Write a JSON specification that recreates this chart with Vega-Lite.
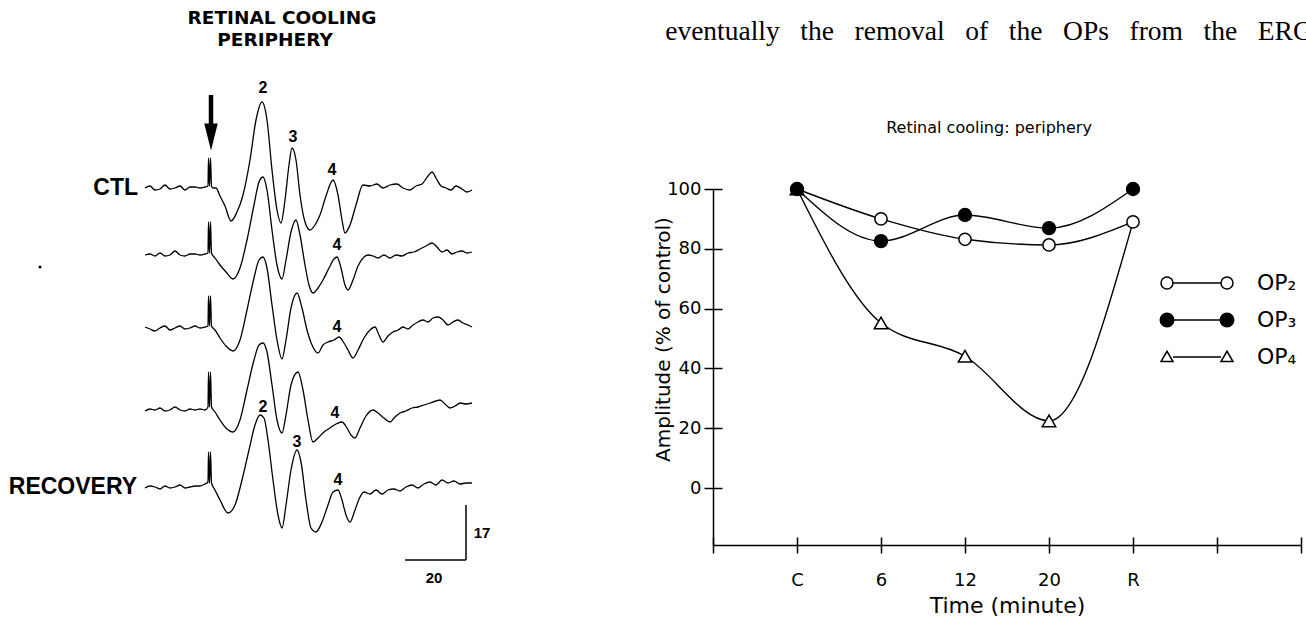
{
  "$schema": "https://vega.github.io/schema/vega-lite/v6.json",
  "background": "white",
  "padding": 0,
  "bounds": "flush",
  "spacing": 241,
  "config": {
    "view": {"stroke": null},
    "axis": {"labelFont": "DejaVu Sans", "titleFont": "DejaVu Sans", "labelColor": "black", "titleColor": "black", "domainColor": "black", "tickColor": "black", "domainWidth": 1.5, "tickWidth": 1.5, "titleFontWeight": "normal", "grid": false}
  },
  "datasets": {
    "op": [
      {"series": "OP4", "time": "C", "k": 0, "amp": 100},
      {"series": "OP4", "time": "6", "k": 1, "amp": 55.2},
      {"series": "OP4", "time": "12", "k": 2, "amp": 44.1},
      {"series": "OP4", "time": "20", "k": 3, "amp": 22.5},
      {"series": "OP4", "time": "R", "k": 4, "amp": 89},
      {"series": "OP2", "time": "C", "k": 0, "amp": 100},
      {"series": "OP2", "time": "6", "k": 1, "amp": 90},
      {"series": "OP2", "time": "12", "k": 2, "amp": 83.2},
      {"series": "OP2", "time": "20", "k": 3, "amp": 81.3},
      {"series": "OP2", "time": "R", "k": 4, "amp": 89},
      {"series": "OP3", "time": "C", "k": 0, "amp": 100},
      {"series": "OP3", "time": "6", "k": 1, "amp": 82.6},
      {"series": "OP3", "time": "12", "k": 2, "amp": 91.3},
      {"series": "OP3", "time": "20", "k": 3, "amp": 86.9},
      {"series": "OP3", "time": "R", "k": 4, "amp": 100}
    ],
    "traces": [
      {"trace": 1, "t": 145, "v": 0}, {"trace": 1, "t": 150, "v": 2}, {"trace": 1, "t": 155, "v": -2}, {"trace": 1, "t": 160, "v": -1}, {"trace": 1, "t": 165, "v": 3}, {"trace": 1, "t": 170, "v": -1}, {"trace": 1, "t": 175, "v": 0}, {"trace": 1, "t": 180, "v": 2}, {"trace": 1, "t": 185, "v": -2}, {"trace": 1, "t": 190, "v": 1}, {"trace": 1, "t": 195, "v": 1}, {"trace": 1, "t": 200, "v": 0}, {"trace": 1, "t": 205, "v": 1}, {"trace": 1, "t": 208, "v": 2}, {"trace": 1, "t": 208.5, "v": 30}, {"trace": 1, "t": 209.5, "v": 2}, {"trace": 1, "t": 210.5, "v": 30}, {"trace": 1, "t": 211.5, "v": 2}, {"trace": 1, "t": 213, "v": 0}, {"trace": 1, "t": 216, "v": 0}, {"trace": 1, "t": 220, "v": -8}, {"trace": 1, "t": 225, "v": -18}, {"trace": 1, "t": 231, "v": -33}, {"trace": 1, "t": 237, "v": -24}, {"trace": 1, "t": 243, "v": -7}, {"trace": 1, "t": 250, "v": 28}, {"trace": 1, "t": 256, "v": 68}, {"trace": 1, "t": 262, "v": 86}, {"trace": 1, "t": 267, "v": 68}, {"trace": 1, "t": 272, "v": 18}, {"trace": 1, "t": 277, "v": -22}, {"trace": 1, "t": 281, "v": -35}, {"trace": 1, "t": 285, "v": -12}, {"trace": 1, "t": 289, "v": 23}, {"trace": 1, "t": 292, "v": 40}, {"trace": 1, "t": 296, "v": 28}, {"trace": 1, "t": 300, "v": -7}, {"trace": 1, "t": 305, "v": -34}, {"trace": 1, "t": 310, "v": -42}, {"trace": 1, "t": 315, "v": -37}, {"trace": 1, "t": 320, "v": -27}, {"trace": 1, "t": 326, "v": -8}, {"trace": 1, "t": 333, "v": 8}, {"trace": 1, "t": 338, "v": -7}, {"trace": 1, "t": 342, "v": -32}, {"trace": 1, "t": 345, "v": -45}, {"trace": 1, "t": 350, "v": -37}, {"trace": 1, "t": 356, "v": -17}, {"trace": 1, "t": 363, "v": 3}, {"trace": 1, "t": 370, "v": 2}, {"trace": 1, "t": 377, "v": 4}, {"trace": 1, "t": 383, "v": 0}, {"trace": 1, "t": 390, "v": 3}, {"trace": 1, "t": 397, "v": 4}, {"trace": 1, "t": 403, "v": 0}, {"trace": 1, "t": 410, "v": -2}, {"trace": 1, "t": 416, "v": 2}, {"trace": 1, "t": 422, "v": 4}, {"trace": 1, "t": 428, "v": 12}, {"trace": 1, "t": 432, "v": 16}, {"trace": 1, "t": 436, "v": 10}, {"trace": 1, "t": 441, "v": 2}, {"trace": 1, "t": 446, "v": 0}, {"trace": 1, "t": 451, "v": -2}, {"trace": 1, "t": 456, "v": 2}, {"trace": 1, "t": 462, "v": -1}, {"trace": 1, "t": 467, "v": -4}, {"trace": 1, "t": 472, "v": -2},
      {"trace": 2, "t": 145, "v": -67}, {"trace": 2, "t": 150, "v": -66}, {"trace": 2, "t": 155, "v": -68}, {"trace": 2, "t": 160, "v": -65}, {"trace": 2, "t": 165, "v": -68}, {"trace": 2, "t": 170, "v": -67}, {"trace": 2, "t": 175, "v": -63}, {"trace": 2, "t": 180, "v": -67}, {"trace": 2, "t": 185, "v": -68}, {"trace": 2, "t": 190, "v": -66}, {"trace": 2, "t": 195, "v": -66}, {"trace": 2, "t": 200, "v": -67}, {"trace": 2, "t": 205, "v": -66}, {"trace": 2, "t": 208, "v": -65}, {"trace": 2, "t": 208.5, "v": -34}, {"trace": 2, "t": 209.5, "v": -65}, {"trace": 2, "t": 210.5, "v": -34}, {"trace": 2, "t": 211.5, "v": -65}, {"trace": 2, "t": 215, "v": -70}, {"trace": 2, "t": 220, "v": -77}, {"trace": 2, "t": 226, "v": -84}, {"trace": 2, "t": 233, "v": -91}, {"trace": 2, "t": 240, "v": -80}, {"trace": 2, "t": 247, "v": -52}, {"trace": 2, "t": 254, "v": -17}, {"trace": 2, "t": 259, "v": 6}, {"trace": 2, "t": 263, "v": 11}, {"trace": 2, "t": 267, "v": -2}, {"trace": 2, "t": 272, "v": -42}, {"trace": 2, "t": 277, "v": -77}, {"trace": 2, "t": 282, "v": -91}, {"trace": 2, "t": 286, "v": -72}, {"trace": 2, "t": 291, "v": -44}, {"trace": 2, "t": 296, "v": -32}, {"trace": 2, "t": 300, "v": -47}, {"trace": 2, "t": 305, "v": -77}, {"trace": 2, "t": 309, "v": -97}, {"trace": 2, "t": 313, "v": -105}, {"trace": 2, "t": 318, "v": -100}, {"trace": 2, "t": 323, "v": -92}, {"trace": 2, "t": 329, "v": -80}, {"trace": 2, "t": 334, "v": -71}, {"trace": 2, "t": 337, "v": -69}, {"trace": 2, "t": 341, "v": -80}, {"trace": 2, "t": 345, "v": -97}, {"trace": 2, "t": 348, "v": -102}, {"trace": 2, "t": 353, "v": -92}, {"trace": 2, "t": 358, "v": -78}, {"trace": 2, "t": 364, "v": -69}, {"trace": 2, "t": 368, "v": -67}, {"trace": 2, "t": 373, "v": -68}, {"trace": 2, "t": 378, "v": -70}, {"trace": 2, "t": 384, "v": -67}, {"trace": 2, "t": 390, "v": -70}, {"trace": 2, "t": 396, "v": -67}, {"trace": 2, "t": 402, "v": -68}, {"trace": 2, "t": 408, "v": -65}, {"trace": 2, "t": 414, "v": -64}, {"trace": 2, "t": 420, "v": -61}, {"trace": 2, "t": 426, "v": -58}, {"trace": 2, "t": 432, "v": -55}, {"trace": 2, "t": 437, "v": -59}, {"trace": 2, "t": 442, "v": -64}, {"trace": 2, "t": 447, "v": -62}, {"trace": 2, "t": 452, "v": -66}, {"trace": 2, "t": 457, "v": -64}, {"trace": 2, "t": 462, "v": -63}, {"trace": 2, "t": 467, "v": -65}, {"trace": 2, "t": 472, "v": -64},
      {"trace": 3, "t": 145, "v": -139}, {"trace": 3, "t": 150, "v": -141}, {"trace": 3, "t": 155, "v": -143}, {"trace": 3, "t": 160, "v": -140}, {"trace": 3, "t": 165, "v": -138}, {"trace": 3, "t": 170, "v": -142}, {"trace": 3, "t": 175, "v": -140}, {"trace": 3, "t": 180, "v": -138}, {"trace": 3, "t": 185, "v": -141}, {"trace": 3, "t": 190, "v": -140}, {"trace": 3, "t": 195, "v": -138}, {"trace": 3, "t": 200, "v": -140}, {"trace": 3, "t": 205, "v": -139}, {"trace": 3, "t": 208, "v": -138}, {"trace": 3, "t": 208.5, "v": -108}, {"trace": 3, "t": 209.5, "v": -138}, {"trace": 3, "t": 210.5, "v": -108}, {"trace": 3, "t": 211.5, "v": -138}, {"trace": 3, "t": 215, "v": -142}, {"trace": 3, "t": 220, "v": -150}, {"trace": 3, "t": 226, "v": -158}, {"trace": 3, "t": 233, "v": -163}, {"trace": 3, "t": 240, "v": -152}, {"trace": 3, "t": 247, "v": -122}, {"trace": 3, "t": 254, "v": -90}, {"trace": 3, "t": 259, "v": -72}, {"trace": 3, "t": 263, "v": -69}, {"trace": 3, "t": 267, "v": -80}, {"trace": 3, "t": 272, "v": -117}, {"trace": 3, "t": 277, "v": -152}, {"trace": 3, "t": 282, "v": -171}, {"trace": 3, "t": 286, "v": -152}, {"trace": 3, "t": 291, "v": -120}, {"trace": 3, "t": 297, "v": -105}, {"trace": 3, "t": 302, "v": -120}, {"trace": 3, "t": 307, "v": -142}, {"trace": 3, "t": 312, "v": -157}, {"trace": 3, "t": 318, "v": -165}, {"trace": 3, "t": 323, "v": -157}, {"trace": 3, "t": 328, "v": -154}, {"trace": 3, "t": 334, "v": -152}, {"trace": 3, "t": 339, "v": -149}, {"trace": 3, "t": 344, "v": -155}, {"trace": 3, "t": 348, "v": -162}, {"trace": 3, "t": 353, "v": -170}, {"trace": 3, "t": 358, "v": -162}, {"trace": 3, "t": 364, "v": -150}, {"trace": 3, "t": 370, "v": -142}, {"trace": 3, "t": 375, "v": -139}, {"trace": 3, "t": 379, "v": -147}, {"trace": 3, "t": 383, "v": -154}, {"trace": 3, "t": 388, "v": -148}, {"trace": 3, "t": 393, "v": -144}, {"trace": 3, "t": 398, "v": -142}, {"trace": 3, "t": 403, "v": -139}, {"trace": 3, "t": 408, "v": -141}, {"trace": 3, "t": 413, "v": -137}, {"trace": 3, "t": 418, "v": -134}, {"trace": 3, "t": 423, "v": -132}, {"trace": 3, "t": 428, "v": -134}, {"trace": 3, "t": 433, "v": -130}, {"trace": 3, "t": 438, "v": -129}, {"trace": 3, "t": 443, "v": -132}, {"trace": 3, "t": 448, "v": -137}, {"trace": 3, "t": 453, "v": -134}, {"trace": 3, "t": 458, "v": -132}, {"trace": 3, "t": 463, "v": -135}, {"trace": 3, "t": 468, "v": -137}, {"trace": 3, "t": 472, "v": -139},
      {"trace": 4, "t": 145, "v": -223}, {"trace": 4, "t": 150, "v": -221}, {"trace": 4, "t": 155, "v": -222}, {"trace": 4, "t": 160, "v": -220}, {"trace": 4, "t": 165, "v": -223}, {"trace": 4, "t": 170, "v": -222}, {"trace": 4, "t": 175, "v": -219}, {"trace": 4, "t": 180, "v": -222}, {"trace": 4, "t": 185, "v": -223}, {"trace": 4, "t": 190, "v": -221}, {"trace": 4, "t": 195, "v": -222}, {"trace": 4, "t": 200, "v": -221}, {"trace": 4, "t": 205, "v": -222}, {"trace": 4, "t": 208, "v": -219}, {"trace": 4, "t": 208.5, "v": -184}, {"trace": 4, "t": 209.5, "v": -219}, {"trace": 4, "t": 210.5, "v": -184}, {"trace": 4, "t": 211.5, "v": -219}, {"trace": 4, "t": 215, "v": -224}, {"trace": 4, "t": 220, "v": -232}, {"trace": 4, "t": 226, "v": -240}, {"trace": 4, "t": 233, "v": -244}, {"trace": 4, "t": 240, "v": -232}, {"trace": 4, "t": 247, "v": -202}, {"trace": 4, "t": 254, "v": -172}, {"trace": 4, "t": 259, "v": -157}, {"trace": 4, "t": 263, "v": -155}, {"trace": 4, "t": 267, "v": -164}, {"trace": 4, "t": 272, "v": -197}, {"trace": 4, "t": 277, "v": -232}, {"trace": 4, "t": 282, "v": -245}, {"trace": 4, "t": 286, "v": -227}, {"trace": 4, "t": 291, "v": -197}, {"trace": 4, "t": 298, "v": -184}, {"trace": 4, "t": 303, "v": -202}, {"trace": 4, "t": 308, "v": -232}, {"trace": 4, "t": 313, "v": -254}, {"trace": 4, "t": 318, "v": -250}, {"trace": 4, "t": 324, "v": -244}, {"trace": 4, "t": 330, "v": -240}, {"trace": 4, "t": 336, "v": -236}, {"trace": 4, "t": 342, "v": -234}, {"trace": 4, "t": 347, "v": -240}, {"trace": 4, "t": 351, "v": -247}, {"trace": 4, "t": 355, "v": -250}, {"trace": 4, "t": 360, "v": -240}, {"trace": 4, "t": 366, "v": -228}, {"trace": 4, "t": 373, "v": -222}, {"trace": 4, "t": 378, "v": -225}, {"trace": 4, "t": 384, "v": -230}, {"trace": 4, "t": 390, "v": -234}, {"trace": 4, "t": 395, "v": -229}, {"trace": 4, "t": 400, "v": -225}, {"trace": 4, "t": 406, "v": -223}, {"trace": 4, "t": 412, "v": -220}, {"trace": 4, "t": 418, "v": -219}, {"trace": 4, "t": 424, "v": -217}, {"trace": 4, "t": 430, "v": -215}, {"trace": 4, "t": 436, "v": -213}, {"trace": 4, "t": 440, "v": -212}, {"trace": 4, "t": 445, "v": -216}, {"trace": 4, "t": 450, "v": -220}, {"trace": 4, "t": 455, "v": -218}, {"trace": 4, "t": 460, "v": -215}, {"trace": 4, "t": 466, "v": -216}, {"trace": 4, "t": 472, "v": -215},
      {"trace": 5, "t": 145, "v": -300}, {"trace": 5, "t": 150, "v": -298}, {"trace": 5, "t": 155, "v": -299}, {"trace": 5, "t": 160, "v": -301}, {"trace": 5, "t": 165, "v": -298}, {"trace": 5, "t": 170, "v": -300}, {"trace": 5, "t": 175, "v": -299}, {"trace": 5, "t": 180, "v": -297}, {"trace": 5, "t": 185, "v": -300}, {"trace": 5, "t": 190, "v": -299}, {"trace": 5, "t": 195, "v": -298}, {"trace": 5, "t": 200, "v": -298}, {"trace": 5, "t": 205, "v": -296}, {"trace": 5, "t": 208, "v": -294}, {"trace": 5, "t": 208.5, "v": -264}, {"trace": 5, "t": 209.5, "v": -295}, {"trace": 5, "t": 210.5, "v": -264}, {"trace": 5, "t": 211.5, "v": -295}, {"trace": 5, "t": 215, "v": -302}, {"trace": 5, "t": 220, "v": -312}, {"trace": 5, "t": 228, "v": -325}, {"trace": 5, "t": 235, "v": -317}, {"trace": 5, "t": 242, "v": -292}, {"trace": 5, "t": 249, "v": -262}, {"trace": 5, "t": 255, "v": -237}, {"trace": 5, "t": 260, "v": -227}, {"trace": 5, "t": 264, "v": -230}, {"trace": 5, "t": 268, "v": -252}, {"trace": 5, "t": 273, "v": -292}, {"trace": 5, "t": 278, "v": -327}, {"trace": 5, "t": 282, "v": -340}, {"trace": 5, "t": 286, "v": -317}, {"trace": 5, "t": 291, "v": -282}, {"trace": 5, "t": 297, "v": -262}, {"trace": 5, "t": 301, "v": -274}, {"trace": 5, "t": 306, "v": -312}, {"trace": 5, "t": 311, "v": -340}, {"trace": 5, "t": 316, "v": -344}, {"trace": 5, "t": 322, "v": -334}, {"trace": 5, "t": 328, "v": -317}, {"trace": 5, "t": 333, "v": -304}, {"trace": 5, "t": 338, "v": -302}, {"trace": 5, "t": 342, "v": -312}, {"trace": 5, "t": 346, "v": -327}, {"trace": 5, "t": 350, "v": -334}, {"trace": 5, "t": 355, "v": -322}, {"trace": 5, "t": 360, "v": -309}, {"trace": 5, "t": 364, "v": -304}, {"trace": 5, "t": 370, "v": -306}, {"trace": 5, "t": 376, "v": -302}, {"trace": 5, "t": 382, "v": -306}, {"trace": 5, "t": 388, "v": -302}, {"trace": 5, "t": 394, "v": -301}, {"trace": 5, "t": 400, "v": -303}, {"trace": 5, "t": 406, "v": -299}, {"trace": 5, "t": 412, "v": -297}, {"trace": 5, "t": 418, "v": -300}, {"trace": 5, "t": 424, "v": -296}, {"trace": 5, "t": 430, "v": -294}, {"trace": 5, "t": 436, "v": -297}, {"trace": 5, "t": 442, "v": -292}, {"trace": 5, "t": 448, "v": -295}, {"trace": 5, "t": 454, "v": -293}, {"trace": 5, "t": 460, "v": -296}, {"trace": 5, "t": 466, "v": -295}, {"trace": 5, "t": 472, "v": -295}
    ],
    "labels": [
      {"kind": "title", "text": "RETINAL COOLING", "t": 282, "v": 170},
      {"kind": "title", "text": "PERIPHERY", "t": 275, "v": 148},
      {"kind": "row", "text": "CTL", "t": 138, "v": 0},
      {"kind": "row", "text": "RECOVERY", "t": 137, "v": -299},
      {"kind": "num", "text": "2", "t": 263, "v": 100},
      {"kind": "num", "text": "3", "t": 293, "v": 51},
      {"kind": "num", "text": "4", "t": 332, "v": 18},
      {"kind": "num", "text": "4", "t": 337, "v": -57},
      {"kind": "num", "text": "4", "t": 337, "v": -139},
      {"kind": "num", "text": "4", "t": 335, "v": -225},
      {"kind": "num", "text": "2", "t": 263, "v": -219},
      {"kind": "num", "text": "3", "t": 297, "v": -254},
      {"kind": "num", "text": "4", "t": 338, "v": -292},
      {"kind": "scale", "text": "17", "t": 482, "v": -345},
      {"kind": "scale", "text": "20", "t": 434, "v": -390}
    ],
    "rules": [
      {"kind": "arrow", "t": 211, "v": 93, "t2": 211, "v2": 60},
      {"kind": "bar", "t": 466, "v": -317, "t2": 466, "v2": -372},
      {"kind": "bar", "t": 405, "v": -372, "t2": 466, "v2": -372}
    ],
    "heads": [
      {"kind": "arrowhead", "t": 211, "v": 51}
    ],
    "specks": [
      {"t": 40, "v": -79}
    ]
  },
  "hconcat": [
    {
      "width": 472,
      "height": 626,
      "view": {"fill": "white", "stroke": null},
      "layer": [
        {
          "data": {"name": "traces"},
          "mark": {"type": "line", "color": "black", "strokeWidth": 1.3, "interpolate": "monotone"},
          "encoding": {
            "x": {"field": "t", "type": "quantitative", "scale": {"domain": [0, 472], "nice": false, "zero": false}, "axis": null},
            "y": {"field": "v", "type": "quantitative", "scale": {"domain": [-438, 188], "nice": false, "zero": false}, "axis": null},
            "detail": {"field": "trace"}
          }
        },
        {
          "data": {"name": "rules"},
          "transform": [{"filter": "datum.kind == 'arrow'"}],
          "mark": {"type": "rule", "color": "black", "strokeWidth": 4.5},
          "encoding": {
            "x": {"field": "t", "type": "quantitative", "axis": null},
            "y": {"field": "v", "type": "quantitative", "axis": null},
            "x2": {"field": "t2"},
            "y2": {"field": "v2"}
          }
        },
        {
          "data": {"name": "rules"},
          "transform": [{"filter": "datum.kind == 'bar'"}],
          "mark": {"type": "rule", "color": "black", "strokeWidth": 1.5},
          "encoding": {
            "x": {"field": "t", "type": "quantitative", "axis": null},
            "y": {"field": "v", "type": "quantitative", "axis": null},
            "x2": {"field": "t2"},
            "y2": {"field": "v2"}
          }
        },
        {
          "data": {"name": "heads"},
          "mark": {"type": "point", "shape": "M-0.5,-1L0.5,-1L0,1Z", "size": 729, "filled": true, "color": "black", "opacity": 1},
          "encoding": {
            "x": {"field": "t", "type": "quantitative", "axis": null},
            "y": {"field": "v", "type": "quantitative", "axis": null}
          }
        },
        {
          "data": {"name": "specks"},
          "mark": {"type": "point", "shape": "circle", "size": 10, "filled": true, "color": "black", "opacity": 1},
          "encoding": {
            "x": {"field": "t", "type": "quantitative", "axis": null},
            "y": {"field": "v", "type": "quantitative", "axis": null}
          }
        },
        {
          "data": {"name": "labels"},
          "transform": [{"filter": "datum.kind == 'title'"}],
          "mark": {"type": "text", "font": "DejaVu Sans", "fontWeight": "bold", "fontSize": 18.5, "align": "center", "baseline": "middle", "color": "black"},
          "encoding": {
            "x": {"field": "t", "type": "quantitative", "axis": null},
            "y": {"field": "v", "type": "quantitative", "axis": null},
            "text": {"field": "text"}
          }
        },
        {
          "data": {"name": "labels"},
          "transform": [{"filter": "datum.kind == 'row'"}],
          "mark": {"type": "text", "font": "Liberation Sans", "fontWeight": "bold", "fontSize": 23, "align": "right", "baseline": "middle", "color": "black"},
          "encoding": {
            "x": {"field": "t", "type": "quantitative", "axis": null},
            "y": {"field": "v", "type": "quantitative", "axis": null},
            "text": {"field": "text"}
          }
        },
        {
          "data": {"name": "labels"},
          "transform": [{"filter": "datum.kind == 'num'"}],
          "mark": {"type": "text", "font": "Liberation Sans", "fontWeight": "bold", "fontSize": 16, "align": "center", "baseline": "middle", "color": "black"},
          "encoding": {
            "x": {"field": "t", "type": "quantitative", "axis": null},
            "y": {"field": "v", "type": "quantitative", "axis": null},
            "text": {"field": "text"}
          }
        },
        {
          "data": {"name": "labels"},
          "transform": [{"filter": "datum.kind == 'scale'"}],
          "mark": {"type": "text", "font": "Liberation Sans", "fontWeight": "bold", "fontSize": 15, "align": "center", "baseline": "middle", "color": "black"},
          "encoding": {
            "x": {"field": "t", "type": "quantitative", "axis": null},
            "y": {"field": "v", "type": "quantitative", "axis": null},
            "text": {"field": "text"}
          }
        }
      ]
    },
    {
      "bounds": "flush",
      "spacing": 0,
      "vconcat": [
        {
          "width": 588,
          "height": 189,
          "data": {"values": [{"a": 1}]},
          "mark": {"type": "point", "opacity": 0}
        },
        {
          "width": 588,
          "height": 356,
          "title": {
            "text": "eventually \u2002the \u2002removal \u2002of \u2002the \u2002OPs \u2002from \u2002the \u2002ERG",
            "subtitle": "Retinal cooling: periphery",
            "anchor": "middle",
            "font": "Liberation Serif",
            "fontSize": 27.5,
            "fontWeight": "normal",
            "color": "black",
            "subtitleFont": "DejaVu Sans",
            "subtitleFontSize": 16,
            "subtitleColor": "black",
            "subtitlePadding": 74,
            "offset": 44,
            "dx": -18
          },
          "data": {"name": "op"},
          "layer": [
            {
              "mark": {"type": "line", "interpolate": "monotone", "color": "black", "strokeWidth": 1.4},
              "encoding": {
                "x": {
                  "field": "time", "type": "ordinal",
                  "scale": {"type": "point", "domain": ["o", "C", "6", "12", "20", "R", "p", "q"], "padding": 0},
                  "axis": {"title": "Time (minute)", "labelExpr": "(datum.value == 'o' || datum.value == 'p' || datum.value == 'q') ? '' : datum.value", "labelAngle": 0, "tickSize": 8, "labelPadding": 18, "titlePadding": 6, "labelFontSize": 18, "titleFontSize": 22}
                },
                "y": {
                  "field": "amp", "type": "quantitative",
                  "scale": {"domain": [-19, 100], "nice": false, "zero": false},
                  "axis": {"title": "Amplitude (% of control)", "values": [0, 20, 40, 60, 80, 100], "tickSize": 9, "labelPadding": 3, "labelFontSize": 18, "titleFontSize": 20, "titleX": -50, "titleY": 150, "titleBaseline": "middle", "titleAlign": "center", "titleAngle": 270}
                },
                "detail": {"field": "series"},
                "order": {"field": "k"}
              }
            },
            {
              "transform": [{"filter": "datum.series != 'OP4' || datum.time != 'R'"}],
              "mark": {"type": "point", "filled": true, "stroke": "black", "strokeWidth": 1.5, "opacity": 1},
              "encoding": {
                "x": {
                  "field": "time", "type": "ordinal",
                  "axis": {"orient": "bottom", "labels": false, "domain": false, "tickSize": -8, "title": null}
                },
                "y": {
                  "field": "amp", "type": "quantitative",
                  "axis": {"orient": "left", "labels": false, "domain": false, "tickSize": -9, "title": null, "values": [0, 20, 40, 60, 80, 100]}
                },
                "shape": {"field": "series", "type": "nominal", "scale": {"domain": ["OP2", "OP3", "OP4"], "range": ["circle", "circle", "triangle-up"]}, "legend": null},
                "fill": {"field": "series", "type": "nominal", "scale": {"domain": ["OP2", "OP3", "OP4"], "range": ["white", "black", "white"]}, "legend": null},
                "size": {"field": "series", "type": "nominal", "scale": {"domain": ["OP2", "OP3", "OP4"], "range": [150, 180, 196]}, "legend": null}
              }
            },
            {
              "mark": {"type": "point", "opacity": 0, "size": 900, "filled": true, "stroke": "black", "strokeWidth": 1.5},
              "encoding": {
                "shape": {
                  "field": "series", "type": "nominal",
                  "scale": {"domain": ["OP2", "OP3", "OP4"], "range": [
                    "M-2.4,0A0.4,0.4,0,1,1,-1.6,0A0.4,0.4,0,1,1,-2.4,0M-1.6,0L1.6,0M1.6,0A0.4,0.4,0,1,1,2.4,0A0.4,0.4,0,1,1,1.6,0",
                    "M-2.45,0A0.45,0.45,0,1,1,-1.55,0A0.45,0.45,0,1,1,-2.45,0M-1.55,0L1.55,0M1.55,0A0.45,0.45,0,1,1,2.45,0A0.45,0.45,0,1,1,1.55,0",
                    "M-2.4,0.3L-1.6,0.3L-2,-0.38ZM-1.6,0L1.6,0M1.6,0.3L2.4,0.3L2,-0.38Z"
                  ]},
                  "legend": {
                    "title": null,
                    "orient": "none",
                    "legendX": 468,
                    "legendY": 78,
                    "padding": 0,
                    "symbolSize": 900,
                    "symbolStrokeWidth": 1.5,
                    "symbolStrokeColor": "black",
                    "symbolOpacity": 1,
                    "labelOffset": 44,
                    "rowPadding": 10,
                    "labelFont": "DejaVu Sans",
                    "labelFontSize": 22,
                    "labelColor": "black",
                    "labelExpr": "'OP' + (datum.label == 'OP2' ? '\u2082' : datum.label == 'OP3' ? '\u2083' : '\u2084')",
                    "encode": {"symbols": {"update": {"opacity": {"value": 1}, "strokeOpacity": {"value": 1}, "fillOpacity": {"value": 1}}}}
                  }
                },
                "fill": {
                  "field": "series", "type": "nominal",
                  "scale": {"domain": ["OP2", "OP3", "OP4"], "range": ["white", "black", "white"]},
                  "legend": {
                    "title": null,
                    "orient": "none",
                    "legendX": 468,
                    "legendY": 78,
                    "padding": 0,
                    "symbolSize": 900,
                    "symbolStrokeWidth": 1.5,
                    "symbolStrokeColor": "black",
                    "symbolOpacity": 1,
                    "labelOffset": 44,
                    "rowPadding": 10,
                    "labelFont": "DejaVu Sans",
                    "labelFontSize": 22,
                    "labelColor": "black",
                    "labelExpr": "'OP' + (datum.label == 'OP2' ? '\u2082' : datum.label == 'OP3' ? '\u2083' : '\u2084')",
                    "encode": {"symbols": {"update": {"opacity": {"value": 1}, "strokeOpacity": {"value": 1}, "fillOpacity": {"value": 1}}}}
                  }
                }
              }
            }
          ],
          "resolve": {"scale": {"shape": "independent", "fill": "independent"}, "axis": {"x": "independent", "y": "independent"}}
        }
      ]
    }
  ]
}
